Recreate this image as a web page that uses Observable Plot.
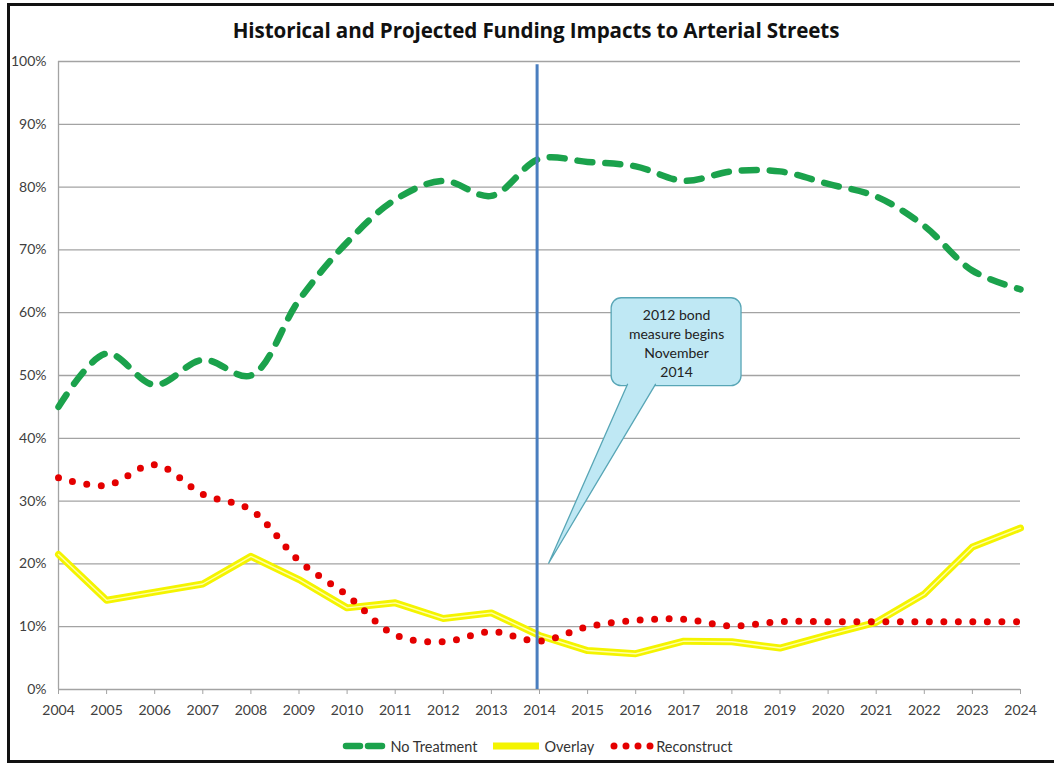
<!DOCTYPE html>
<html><head><meta charset="utf-8">
<script src="https://cdn.jsdelivr.net/npm/d3@7"></script>
<script src="https://cdn.jsdelivr.net/npm/@observablehq/plot@0.6"></script>
<style>
body{margin:0;background:#fff;font-family:Lato,"Open Sans",sans-serif;}
#wrap{position:relative;width:1054px;height:765px;overflow:hidden;background:#fff;}
#frame{position:absolute;left:7px;top:3px;width:1080px;height:760px;border:3px solid #111;box-sizing:border-box;pointer-events:none;}
#title{height:45px;line-height:60px;text-align:center;font-weight:bold;font-size:20.6px;color:#111;padding-left:18px;box-sizing:border-box;font-family:"Open Sans",Lato,sans-serif;letter-spacing:-0.1px;}
#chart svg{display:block;}
#legend{display:flex;justify-content:center;align-items:center;height:22px;margin-top:0px;padding-left:21px;font-size:14.5px;color:#333;}
#legend .item{display:flex;align-items:center;margin:0 8px;}
#legend svg{display:block;margin-right:2px;}
</style>
</head><body>
<div id="wrap">
  <div id="title">Historical and Projected Funding Impacts to Arterial Streets</div>
  <div id="chart"></div>
  <div id="legend"></div>
  <div id="frame"></div>
</div>
<script>
const years = [2004,2005,2006,2007,2008,2009,2010,2011,2012,2013,2014,2015,2016,2017,2018,2019,2020,2021,2022,2023,2024];
const noTreatment = [45,53.5,48.5,52.5,50,62,71.2,78,81,78.6,84.5,84,83.3,81,82.5,82.5,80.5,78.5,73.8,66.7,63.7];
const overlay = [21.5,14.2,15.5,16.8,21.2,17.5,13,13.8,11.3,12.2,8.6,6.2,5.7,7.7,7.6,6.6,8.7,10.7,15.2,22.7,25.7];
const reconstruct = [33.7,32.5,35.8,31.1,28.6,20.5,15,8.7,7.6,9.2,7.7,10,11,11.2,10.1,10.8,10.8,10.8,10.8,10.8,10.8];
const yTicks = [0,10,20,30,40,50,60,70,80,90,100];
const seriesNames = ["No Treatment","Overlay","Reconstruct"];
const bondYear = 2013.95;
const calloutText = "2012 bond\nmeasure begins\nNovember\n2014";
const calloutBox = {x1:2015.5, x2:2018.2, y1:48.3, y2:62.3};
const calloutTail = [{x:2015.83,y:48.6},{x:2014.19,y:20.1},{x:2016.41,y:48.6}];

const rows = (vals) => years.map((x,i)=>({x, y: vals[i]}));

const green = "#1ba24c", yellow = "#f4f400", yellowInner = "#ffffa8", red = "#e40000";
const boxFill = "#bfe8f4", boxStroke = "#58a6b6";

const plot = Plot.plot({
  width:1054, height:690,
  marginTop:16, marginBottom:46, marginLeft:58, marginRight:34,
  style:{fontFamily:'Lato, "Open Sans", sans-serif', fontSize:"14px", color:"#404040", background:"transparent"},
  x:{domain:[2004,2024], label:null},
  y:{domain:[0,100], label:null},
  marks:[
    Plot.gridY(yTicks, {stroke:"#a3a3a3", strokeOpacity:1, strokeWidth:1.3}),
    Plot.ruleX([2004], {y1:0, y2:100, stroke:"#a3a3a3", strokeWidth:1.3}),
    Plot.axisX(years, {tickSize:5, tickPadding:11, stroke:"#a3a3a3", fill:"#404040", tickFormat:d=>String(d), label:null}),
    Plot.axisY(yTicks, {tickSize:0, tickPadding:12, fill:"#404040", tickFormat:d=>d+"%", label:null}),
    // callout
    Plot.rect([calloutBox], {x1:"x1", x2:"x2", y1:"y1", y2:"y2", rx:10, fill:boxFill, stroke:boxStroke, strokeWidth:1.3}),
    Plot.line(calloutTail, {x:"x", y:"y", fill:boxFill, stroke:"none"}),
    Plot.line(calloutTail, {x:"x", y:"y", stroke:boxStroke, strokeWidth:1.3}),
    Plot.text([calloutText], {x:(calloutBox.x1+calloutBox.x2)/2, y:(calloutBox.y1+calloutBox.y2)/2, text:d=>d, fontSize:14, lineHeight:1.35, fill:"#222"}),
    // series
    Plot.line(rows(overlay), {x:"x", y:"y", stroke:yellow, strokeWidth:7, strokeLinejoin:"round"}),
    Plot.line(rows(overlay), {x:"x", y:"y", stroke:yellowInner, strokeWidth:1.4, strokeLinejoin:"round"}),
    Plot.line(rows(reconstruct), {x:"x", y:"y", curve:"catmull-rom", stroke:red, strokeWidth:7, strokeLinecap:"round", strokeDasharray:"0,14.5"}),
    Plot.line(rows(noTreatment), {x:"x", y:"y", curve:"catmull-rom", stroke:green, strokeWidth:6.5, strokeLinecap:"round", strokeDasharray:"15,13"}),
    Plot.ruleX([bondYear], {y1:0, y2:99.5, stroke:"#4a7ebf", strokeWidth:3})
  ]
});
document.getElementById("chart").appendChild(plot);

// legend
const legend = document.getElementById("legend");
const swatches = [
  {w:46, attrs:{stroke:green, "stroke-width":6.5, "stroke-linecap":"round", "stroke-dasharray":"14,8"}},
  {w:49, attrs:{stroke:yellow, "stroke-width":7}},
  {w:44, attrs:{stroke:red, "stroke-width":7, "stroke-linecap":"round", "stroke-dasharray":"0,12"}}
];
seriesNames.forEach((name,i)=>{
  const item = document.createElement("div");
  item.className = "item";
  const sw = swatches[i];
  const svg = d3.create("svg").attr("width", sw.w).attr("height", 12);
  const ln = svg.append("line").attr("x1", i===1?0:4).attr("x2", sw.w-3).attr("y1",6).attr("y2",6);
  Object.entries(sw.attrs).forEach(([k,v])=>ln.attr(k,v));
  item.appendChild(svg.node());
  const span = document.createElement("span");
  span.textContent = name;
  item.appendChild(span);
  legend.appendChild(item);
});
</script>
</body></html>
